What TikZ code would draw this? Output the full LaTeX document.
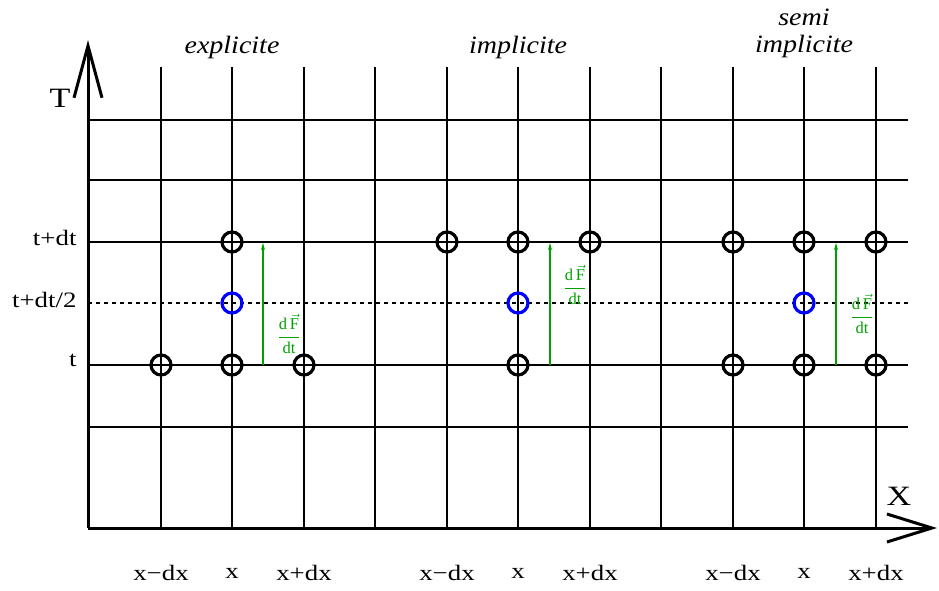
\documentclass[tikz,border=0pt]{standalone}
\usepackage{fontspec}
\setmainfont{Liberation Serif}
\newfontfamily\labfont[FakeStretch=1.22]{Liberation Serif}
\newfontfamily\ttlfont[FakeStretch=1.12]{Liberation Serif}
\usetikzlibrary{arrows.meta}
\definecolor{dgreen}{RGB}{0,160,0}
\begin{document}
\begin{tikzpicture}[x=1pt,y=-1pt,
  grid/.style={line width=1.6pt},
  axis/.style={line width=3pt},
  pt/.style={circle,draw=black,line width=3.2pt,minimum size=20pt,inner sep=0pt},
  bpt/.style={pt,draw=blue},
  lab/.style={font=\labfont\fontsize{22}{24}\selectfont},
  big/.style={font=\labfont\fontsize{28}{30}\selectfont},
  ttl/.style={font=\ttlfont\fontsize{25}{27}\selectfont\itshape,align=center},
  deriv/.style={-{Stealth[length=7pt,width=4pt]},dgreen,line width=1.3pt},
  dlab/.style={text=dgreen,font=\fontsize{16.5}{17}\selectfont,inner sep=0pt}]
\useasboundingbox (0,0) rectangle (939,590);
% coordinates
\coordinate (O) at (88,528);
\coordinate (Ytip) at (88,40);
\coordinate (Xtip) at (937,528);
% vertical grid lines
\foreach \xx [count=\i] in {161,232,304,375,447,518,590,661,733,804,876} {
  \coordinate (vt\i) at (\xx,67);
  \coordinate (vb\i) at (\xx,528);
  \draw[grid] (vt\i) -- (vb\i);
}
% horizontal grid lines
\foreach \y/\n in {120/a,180/b,242/c,365/d,427/e} {
  \coordinate (hl\n) at (88,\y);
  \coordinate (hr\n) at (908,\y);
  \draw[grid] (hl\n) -- (hr\n);
}
\coordinate (hlm) at (88,303);
\coordinate (hrm) at (908,303);
\draw[line width=1.5pt,dash pattern=on 4pt off 4pt] (hlm) -- (hrm);
% axes
\draw[axis,-{Straight Barb[length=52pt,width=28pt,line width=3pt]}] (O) -- (Ytip);
\draw[axis,-{Straight Barb[length=45pt,width=28pt,line width=3pt]}] (O) -- (Xtip);
\node[big] (T) at (60,98) {T};
\node[big] (X) at (899,496) {X};
% left labels
\node[lab,anchor=east] (lt1) at (80,238) {t+dt};
\node[lab,anchor=east] (lt2) at (80,300) {t+dt/2};
\node[lab,anchor=east] (lt3) at (80,360) {t};
% bottom labels
\foreach \xa/\xb/\xc/\s in {161/232/304/a,447/518/590/b,733/804/876/c} {
  \node[lab] (bxm\s) at (\xa,573) {x−dx};
  \node[lab] (bx\s) at (\xb,573) {x};
  \node[lab] (bxp\s) at (\xc,573) {x+dx};
}
% titles
\node[ttl] (t1) at (232,47) {explicite};
\node[ttl] (t2) at (518,47) {implicite};
\node[ttl] (t3) at (804,33) {semi\\implicite};
% explicit
\node[pt] (e1) at (161,365) {};
\node[pt] (e2) at (232,365) {};
\node[pt] (e3) at (304,365) {};
\node[pt] (e4) at (232,242) {};
\node[bpt] (e5) at (232,303) {};
\coordinate (ea) at (263,365);
\coordinate (eb) at (263,243);
\draw[deriv] (ea) -- (eb);
\node[dlab] (ed) at (289,334) {$\displaystyle\frac{\mathrm{d}\,\vec{\mathrm{F}}}{\mathrm{d}\mathrm{t}}$};
% implicit
\node[pt] (i1) at (447,242) {};
\node[pt] (i2) at (518,242) {};
\node[pt] (i3) at (590,242) {};
\node[pt] (i4) at (518,365) {};
\node[bpt] (i5) at (518,303) {};
\coordinate (ia) at (550,365);
\coordinate (ib) at (550,243);
\draw[deriv] (ia) -- (ib);
\node[dlab] (id) at (575,285) {$\displaystyle\frac{\mathrm{d}\,\vec{\mathrm{F}}}{\mathrm{d}\mathrm{t}}$};
% semi implicit
\node[pt] (s1) at (733,242) {};
\node[pt] (s2) at (804,242) {};
\node[pt] (s3) at (876,242) {};
\node[pt] (s4) at (733,365) {};
\node[pt] (s5) at (804,365) {};
\node[pt] (s6) at (876,365) {};
\node[bpt] (s7) at (804,303) {};
\coordinate (sa) at (836,365);
\coordinate (sb) at (836,243);
\draw[deriv] (sa) -- (sb);
\node[dlab] (sd) at (862,314) {$\displaystyle\frac{\mathrm{d}\,\vec{\mathrm{F}}}{\mathrm{d}\mathrm{t}}$};
\end{tikzpicture}
\end{document}
